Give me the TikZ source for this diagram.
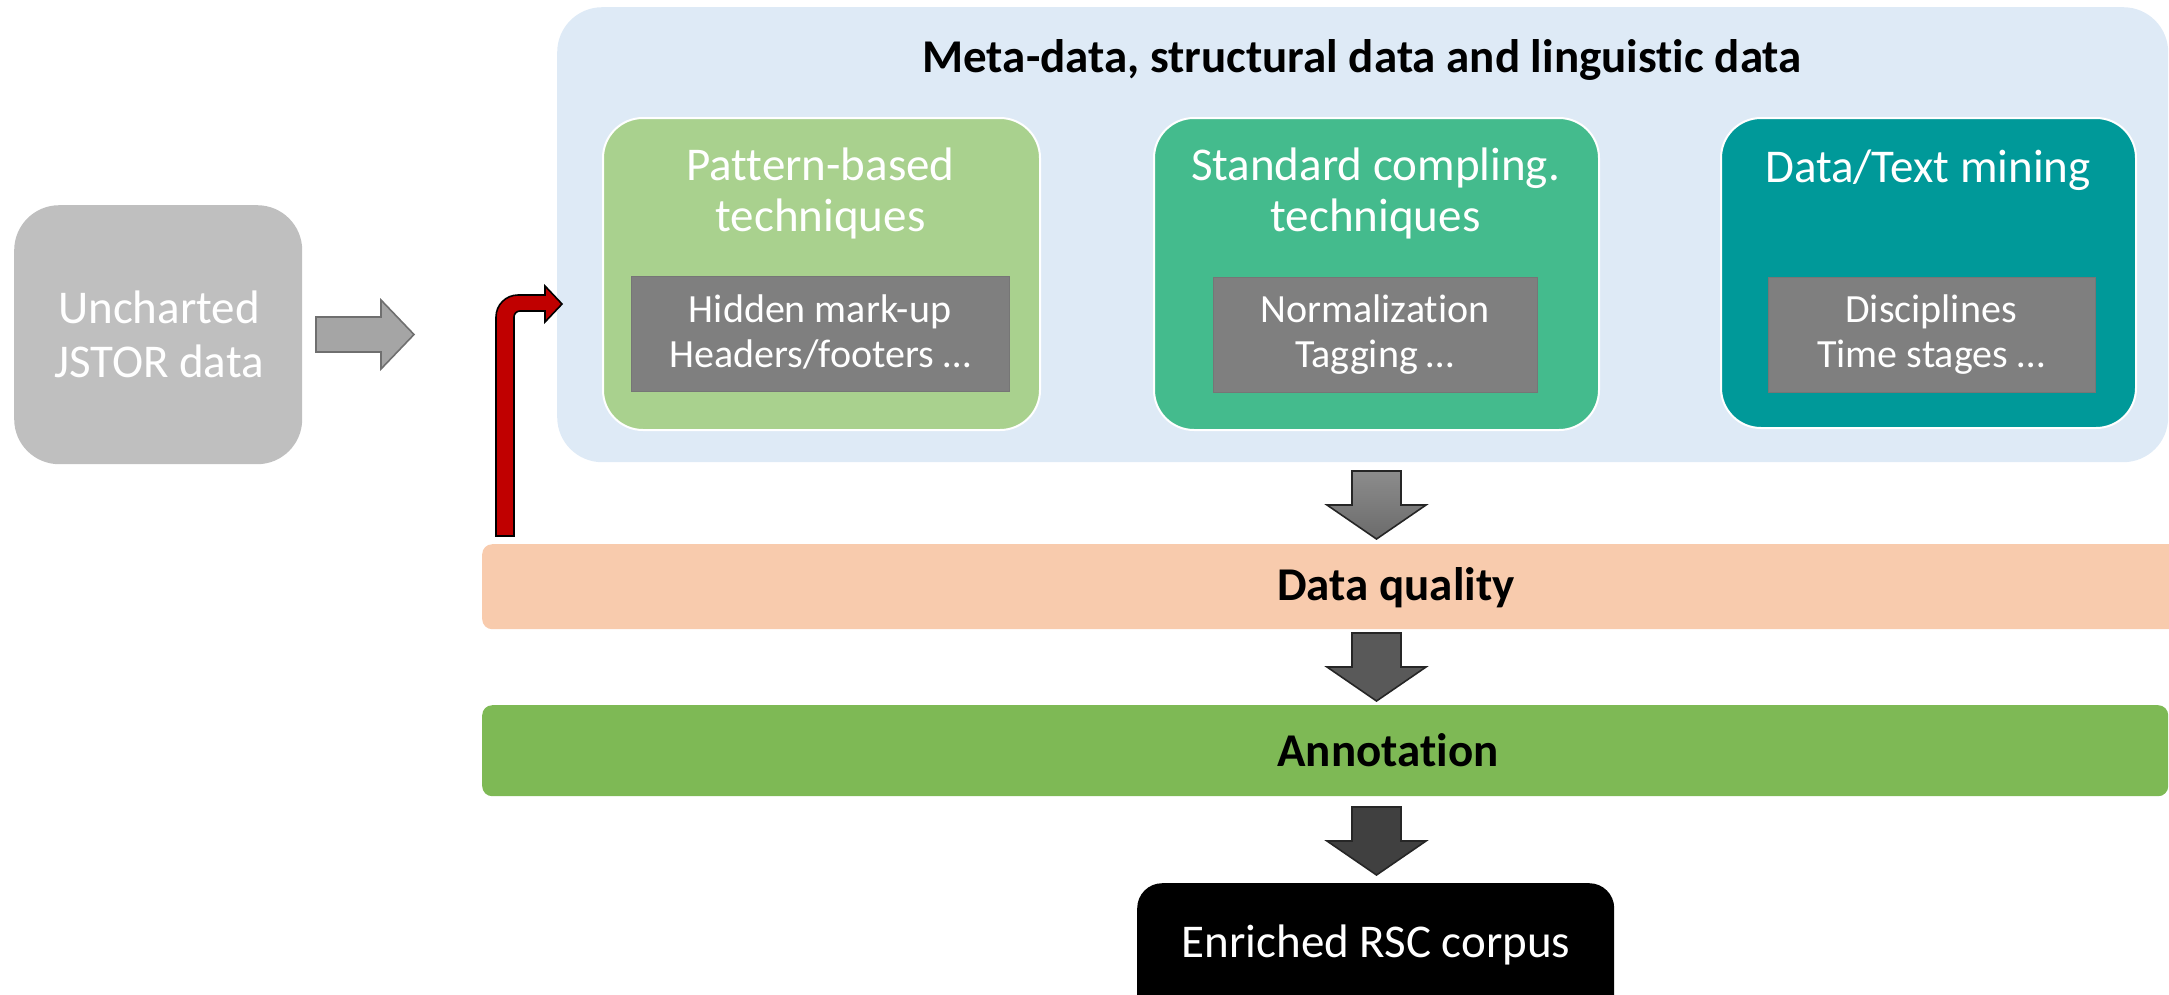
\documentclass[tikz,border=0pt]{standalone}
\usepackage{fontspec}
\setmainfont{Carlito}[Ligatures=NoCommon]
\definecolor{panelblue}{HTML}{DEEAF6}
\definecolor{patgreen}{HTML}{A9D18E}
\definecolor{stdgreen}{HTML}{44BB8D}
\definecolor{mineteal}{HTML}{009999}
\definecolor{listgray}{HTML}{7F7F7F}
\definecolor{listedge}{HTML}{767676}
\definecolor{srcgray}{HTML}{BFBFBF}
\definecolor{flowgray}{HTML}{A5A5A5}
\definecolor{flowedge}{HTML}{6F6F6F}
\definecolor{loopred}{HTML}{C00000}
\definecolor{dqorange}{HTML}{F8CBAD}
\definecolor{anngreen}{HTML}{7EB955}
\definecolor{stepedge}{HTML}{262626}

% downward block arrow: #1 = top of the shaft (px from the top), #2 = fill options
\newcommand\dnblock[2]{%
  \draw[#2, draw=stepedge, line width=1.6pt, line join=miter]
    (1352,{-#1}) -- (1401,{-#1}) -- (1401,{-#1-34}) -- (1426,{-#1-34})
    -- (1376.5,{-#1-68}) -- (1327,{-#1-34}) -- (1352,{-#1-34}) -- cycle;}

\begin{document}
\begin{tikzpicture}[x=1pt,y=1pt,
  panel/.style={draw=white, line width=2pt, rounded corners=40pt,
    inner sep=0pt, anchor=north west},
  listbox/.style={fill=listgray, draw=listedge, line width=1pt,
    inner sep=0pt, anchor=north west},
  headtxt/.style={text=white, font=\fontsize{47}{51}\selectfont,
    align=center, inner sep=0pt, anchor=base},
  listtxt/.style={text=white, font=\fontsize{40}{45.5}\selectfont,
    align=center, inner sep=0pt, anchor=base},
  boldtxt/.style={font=\fontsize{47}{52}\selectfont\bfseries,
    inner sep=0pt, anchor=base},
  bar/.style={inner sep=0pt, anchor=north west, rounded corners=10pt},
]
\useasboundingbox (0,0) rectangle (2169,-994);

% source data (text anchored at the baseline of its last line)
\node[fill=srcgray, rounded corners=45pt, inner sep=0pt, anchor=north west,
  minimum width=288pt, minimum height=259pt] (src) at (14,-205) {};
\node[headtxt, font=\fontsize{47}{54}\selectfont] (srctxt) at (159,-377)
  {Uncharted\\JSTOR data};

% input arrow
\draw[fill=flowgray, draw=flowedge, line width=1.6pt, line join=miter]
  (316,-317) -- (381,-317) -- (381,-300) -- (414,-334.5) -- (381,-369)
  -- (381,-352) -- (316,-352) -- cycle;

% processing panel
\node[fill=panelblue, rounded corners=45pt, inner sep=0pt, anchor=north west,
  minimum width=1611pt, minimum height=455pt] (meta) at (557,-7) {};
\node[boldtxt] (metatitle) at (1362,-72)
  {Meta-data, structural data and linguistic data};

\node[panel, fill=patgreen, minimum width=437pt, minimum height=312pt]
  (pat) at (602,-117) {};
\node[headtxt] (pattxt) at (820.5,-231) {Pattern-based\\techniques};
\node[listbox, minimum width=378pt, minimum height=115pt] (patlist) at (631,-276) {};
\node[listtxt] (patlisttxt) at (820,-367.5) {Hidden mark-up\\Headers/footers \dots};

\node[panel, fill=stdgreen, minimum width=445pt, minimum height=312pt]
  (std) at (1153,-117) {};
\node[headtxt] (stdtxt) at (1375.5,-231) {Standard compling.\\techniques};
\node[listbox, minimum width=324pt, minimum height=115pt] (stdlist) at (1213,-277) {};
\node[listtxt] (stdlisttxt) at (1375,-367.5) {Normalization\\Tagging \dots};

\node[panel, fill=mineteal, minimum width=415pt, minimum height=310pt]
  (mine) at (1720,-117) {};
\node[headtxt] (minetxt) at (1928,-182) {Data/Text mining};
\node[listbox, minimum width=327pt, minimum height=115pt] (minelist) at (1768,-277) {};
\node[listtxt] (minelisttxt) at (1931,-367.5) {Disciplines\\Time stages \dots};

% quality and annotation layers
\node[bar, fill=dqorange, minimum width=1720pt, minimum height=85pt] (dq) at (482,-544) {};
\node[boldtxt] (dqtxt) at (1396,-600) {Data quality};
\node[bar, fill=anngreen, minimum width=1686pt, minimum height=91pt] (ann) at (482,-705) {};
\node[boldtxt] (anntxt) at (1388,-766) {Annotation};

% result
\node[fill=black, rounded corners=25pt, inner sep=0pt, anchor=north west,
  minimum width=477pt, minimum height=150pt] (rsc) at (1137,-883) {};
\node[headtxt] (rsctxt) at (1376,-957) {Enriched RSC corpus};

% feedback loop from data quality back into the panel
\draw[fill=loopred, draw=black, line width=1.6pt, line join=miter]
  (496,-536) -- (496,-317) arc[start angle=180, end angle=90, radius=22pt]
  -- (545,-295) -- (545,-286) -- (562,-304) -- (545,-322) -- (545,-311)
  -- (520,-311) arc[start angle=90, end angle=180, radius=6pt]
  -- (514,-536) -- cycle;

% flow between the stages
\dnblock{471}{top color=black!45, bottom color=black!58}
\dnblock{633}{fill=black!65}
\dnblock{807}{fill=black!75}
\end{tikzpicture}
\end{document}
